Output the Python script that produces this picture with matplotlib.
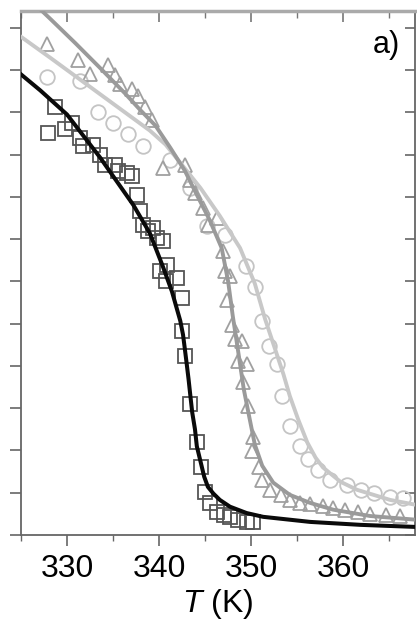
import matplotlib
matplotlib.use("Agg")
import matplotlib.pyplot as plt
from matplotlib.ticker import MultipleLocator, NullFormatter

plt.rcParams['font.family'] = ['Liberation Sans', 'DejaVu Sans']
plt.rcParams['mathtext.fontset'] = 'custom'
plt.rcParams['mathtext.it'] = 'Liberation Sans:italic'
plt.rcParams['mathtext.rm'] = 'Liberation Sans'

# squares (measured points, sample 1)
T_sq = [328.7, 327.9, 329.8, 330.5, 331.4, 331.7, 332.8, 333.6, 334.1, 335.2, 335.5,
        336.5, 337.1, 337.6, 337.9, 338.3, 338.8, 339.3, 339.8, 340.4, 340.9, 340.1,
        340.7, 342.0, 342.5, 342.5, 342.8, 343.4, 344.1, 344.5, 345.0, 345.5, 346.3,
        347.0, 347.7, 348.6, 349.6, 350.2]
y_sq = [1.012, 0.952, 0.960, 0.976, 0.940, 0.921, 0.924, 0.900, 0.876, 0.876, 0.862,
        0.857, 0.850, 0.805, 0.767, 0.733, 0.719, 0.726, 0.702, 0.695, 0.638, 0.624,
        0.600, 0.607, 0.560, 0.483, 0.424, 0.310, 0.219, 0.160, 0.102, 0.076, 0.055,
        0.048, 0.043, 0.036, 0.031, 0.031]

# triangles (sample 2)
T_tri = [327.8, 331.2, 332.5, 334.5, 335.2, 335.8, 337.1, 337.7, 338.5, 339.2, 340.4,
         342.8, 343.4, 343.9, 344.8, 346.3, 345.3, 346.9, 347.2, 347.7, 347.4, 347.9,
         348.3, 349.0, 348.6, 349.6, 349.1, 349.7, 350.2, 350.1, 350.8, 351.2, 352.1,
         353.2, 354.2, 355.3, 356.4, 357.8, 358.9, 360.2, 361.6, 362.9, 364.6, 366.2]
y_tri = [1.162, 1.124, 1.090, 1.112, 1.088, 1.067, 1.055, 1.040, 1.012, 0.981, 0.869,
         0.876, 0.840, 0.810, 0.774, 0.750, 0.733, 0.671, 0.624, 0.614, 0.555, 0.498,
         0.464, 0.460, 0.412, 0.405, 0.362, 0.305, 0.231, 0.198, 0.162, 0.131, 0.107,
         0.095, 0.083, 0.076, 0.074, 0.069, 0.064, 0.060, 0.055, 0.050, 0.048, 0.045]

# circles (sample 3)
T_cir = [327.8, 331.4, 333.4, 335.0, 336.6, 338.2, 341.2, 343.4, 345.2, 347.2, 349.4,
         350.4, 351.2, 351.9, 352.8, 353.4, 354.2, 355.3, 356.2, 357.3, 358.6, 360.4,
         361.9, 363.3, 365.1, 366.5]
y_cir = [1.083, 1.074, 1.002, 0.976, 0.950, 0.921, 0.888, 0.821, 0.731, 0.710, 0.636,
         0.588, 0.507, 0.448, 0.405, 0.329, 0.257, 0.210, 0.179, 0.155, 0.131, 0.119,
         0.107, 0.100, 0.090, 0.088]

# fit curves
T_fit1 = [325.0, 327.1, 330.0, 333.6, 337.2, 339.0, 340.4, 341.4, 342.3, 342.6, 342.8,
          343.0, 343.2, 343.4, 343.6, 343.9, 344.1, 344.5, 344.9, 345.3, 345.9, 346.6,
          347.7, 349.5, 351.3, 356.4, 361.9, 368.0]
y_fit1 = [1.090, 1.052, 0.995, 0.893, 0.781, 0.714, 0.636, 0.576, 0.507, 0.474, 0.440,
          0.405, 0.369, 0.329, 0.290, 0.250, 0.210, 0.174, 0.138, 0.114, 0.098, 0.083,
          0.067, 0.052, 0.043, 0.031, 0.024, 0.019]

T_fit2 = [326.9, 328.2, 330.9, 333.6, 336.3, 337.9, 339.6, 341.2, 342.8, 344.1, 345.5,
          346.8, 347.5, 348.0, 348.6, 349.2, 349.8, 350.4, 351.2, 352.4, 354.2, 356.4,
          358.9, 362.9, 368.0]
y_fit2 = [1.248, 1.221, 1.164, 1.105, 1.045, 1.007, 0.969, 0.917, 0.862, 0.805, 0.745,
          0.679, 0.600, 0.519, 0.433, 0.345, 0.279, 0.214, 0.164, 0.124, 0.095, 0.076,
          0.060, 0.045, 0.036]

T_fit3 = [325.0, 328.2, 330.9, 333.6, 336.3, 339.0, 340.7, 342.3, 344.5, 346.6, 348.8,
          350.4, 351.5, 352.6, 353.5, 354.2, 355.1, 356.1, 357.0, 357.8, 359.7, 361.5,
          365.1, 368.0]
y_fit3 = [1.179, 1.129, 1.086, 1.043, 1.000, 0.957, 0.924, 0.881, 0.821, 0.755, 0.679,
          0.595, 0.512, 0.440, 0.381, 0.329, 0.274, 0.219, 0.183, 0.160, 0.126, 0.107,
          0.083, 0.071]

fig = plt.figure(figsize=(4.17, 6.28), dpi=100)
ax = fig.add_axes([21/417, 93/628, 394/417, 524/628])

ms = 10.5
ax.plot(T_cir, y_cir, 'o', ms=ms, mfc='none', mec='#c4c4c4', mew=1.3, zorder=2)
ax.plot(T_tri, y_tri, '^', ms=ms, mfc='none', mec='#a0a0a0', mew=1.3, zorder=2)
ax.plot(T_sq, y_sq, 's', ms=ms, mfc='none', mec='#555555', mew=1.3, zorder=2)

ax.plot(T_fit3, y_fit3, '-', color='#c8c8c8', lw=2.8, zorder=3)
ax.plot(T_fit2, y_fit2, '-', color='#9a9a9a', lw=2.8, zorder=3)
ax.plot(T_fit1, y_fit1, '-', color='#0a0a0a', lw=2.9, zorder=4)

ax.set_xlim(325, 367.8)
ax.set_ylim(0, 1.24)
ax.xaxis.set_major_locator(MultipleLocator(10))
ax.xaxis.set_minor_locator(MultipleLocator(5))
ax.yaxis.set_major_locator(MultipleLocator(0.2))
ax.yaxis.set_minor_locator(MultipleLocator(0.1))

for s in ['left', 'bottom', 'right']:
    ax.spines[s].set_color('#666666')
    ax.spines[s].set_linewidth(1.3)
ax.spines['top'].set_color('#aaaaaa')
ax.spines['top'].set_linewidth(2.5)

ax.tick_params(axis='x', which='major', direction='out', length=8, width=1.2,
               color='#666666', labelsize=23, pad=6, top=False)
ax.tick_params(axis='x', which='minor', direction='out', length=4, width=1.0,
               color='#666666', top=False)
ax.tick_params(axis='y', which='both', direction='out', length=8, width=1.2,
               color='#666666', labelleft=False, right=False)

sec = ax.secondary_xaxis('top')
sec.xaxis.set_major_locator(MultipleLocator(10))
sec.xaxis.set_minor_locator(MultipleLocator(5))
sec.xaxis.set_major_formatter(NullFormatter())
sec.tick_params(which='major', direction='in', length=8, width=1.2, color='#777777', labeltop=False)
sec.tick_params(which='minor', direction='in', length=5, width=1.0, color='#777777')
sec.spines['top'].set_visible(False)
secy = ax.secondary_yaxis('right')
secy.yaxis.set_major_locator(MultipleLocator(0.1))
secy.yaxis.set_major_formatter(NullFormatter())
secy.tick_params(direction='in', length=7, width=1.2, color='#666666', labelright=False)
secy.spines['right'].set_visible(False)

ax.set_xlabel('$T$ (K)', fontsize=23, labelpad=2)
ax.text(0.962, 0.935, 'a)', transform=ax.transAxes, ha='right', va='center', fontsize=22)

fig.savefig('out.png', dpi=100)
